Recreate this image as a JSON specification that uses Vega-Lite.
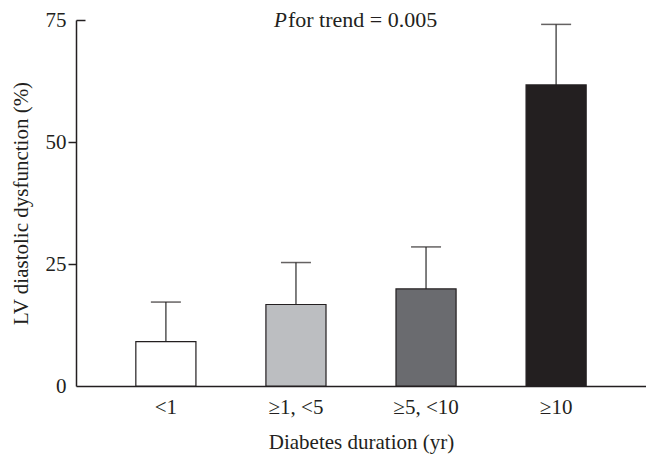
{
  "$schema": "https://vega.github.io/schema/vega-lite/v6.json",
  "width": 570,
  "height": 366,
  "autosize": "none",
  "padding": {"left": 76, "top": 20, "right": 0, "bottom": 72},
  "background": "white",
  "config": {
    "view": {"stroke": null},
    "font": "Liberation Serif",
    "text": {"font": "Liberation Serif"},
    "axis": {"labelFont": "Liberation Serif", "titleFont": "Liberation Serif", "labelColor": "#231f20", "titleColor": "#231f20", "titleFontWeight": "normal", "labelFontWeight": "normal", "domainColor": "#231f20", "tickColor": "#231f20", "domainWidth": 1.5, "tickWidth": 1.5, "grid": false, "labelFontSize": 21, "titleFontSize": 21}
  },
  "data": {
    "values": [
      {"group": "<1", "value": 9.1, "upper": 17.2},
      {"group": "≥1, <5", "value": 16.7, "upper": 25.3},
      {"group": "≥5, <10", "value": 19.9, "upper": 28.5},
      {"group": "≥10", "value": 61.7, "upper": 74.1}
    ]
  },
  "encoding": {
    "x": {
      "field": "group", "type": "nominal", "sort": null,
      "scale": {"paddingInner": 0.538, "paddingOuter": 0.46},
      "axis": {"title": "Diabetes duration (yr)", "labelAngle": 0, "ticks": false, "labelPadding": 10, "titlePadding": 14}
    }
  },
  "layer": [
    {
      "mark": {"type": "rule", "color": "#555555", "strokeWidth": 1.5},
      "encoding": {
        "y": {"field": "value", "type": "quantitative"},
        "y2": {"field": "upper"}
      }
    },
    {
      "mark": {"type": "tick", "color": "#231f20", "size": 30, "thickness": 1.5},
      "encoding": {
        "y": {"field": "upper", "type": "quantitative"}
      }
    },
    {
      "mark": {"type": "bar", "stroke": "#231f20", "strokeWidth": 1.2},
      "encoding": {
        "y": {
          "field": "value", "type": "quantitative",
          "scale": {"domain": [0, 75], "nice": false},
          "axis": {
            "values": [0, 25, 50, 75],
            "title": "LV diastolic dysfunction (%)",
            "tickSize": {"condition": {"test": "datum.value === 75", "value": -9}, "value": 8},
            "tickOpacity": {"condition": {"test": "datum.value === 0", "value": 0}, "value": 1},
            "labelPadding": {"condition": {"test": "datum.value === 75", "value": 19}, "value": 2},
            "titlePadding": 14
          }
        },
        "fill": {
          "field": "group", "type": "nominal", "sort": null,
          "scale": {"domain": ["<1", "≥1, <5", "≥5, <10", "≥10"], "range": ["#ffffff", "#bcbec1", "#6a6b6f", "#231f20"]},
          "legend": null
        }
      }
    },
    {
      "data": {"values": [{"group": "≥1, <5", "y": 75, "label": "P"}]},
      "mark": {"type": "text", "fontStyle": "italic", "fontSize": 21, "align": "left", "baseline": "alphabetic", "dx": -22, "dy": 7, "color": "#231f20"},
      "encoding": {
        "y": {"field": "y", "type": "quantitative"},
        "text": {"field": "label"}
      }
    },
    {
      "data": {"values": [{"group": "≥1, <5", "y": 75, "label": "for trend = 0.005"}]},
      "mark": {"type": "text", "fontSize": 22, "align": "left", "baseline": "alphabetic", "dx": -8, "dy": 7, "color": "#231f20"},
      "encoding": {
        "y": {"field": "y", "type": "quantitative"},
        "text": {"field": "label"}
      }
    }
  ]
}
